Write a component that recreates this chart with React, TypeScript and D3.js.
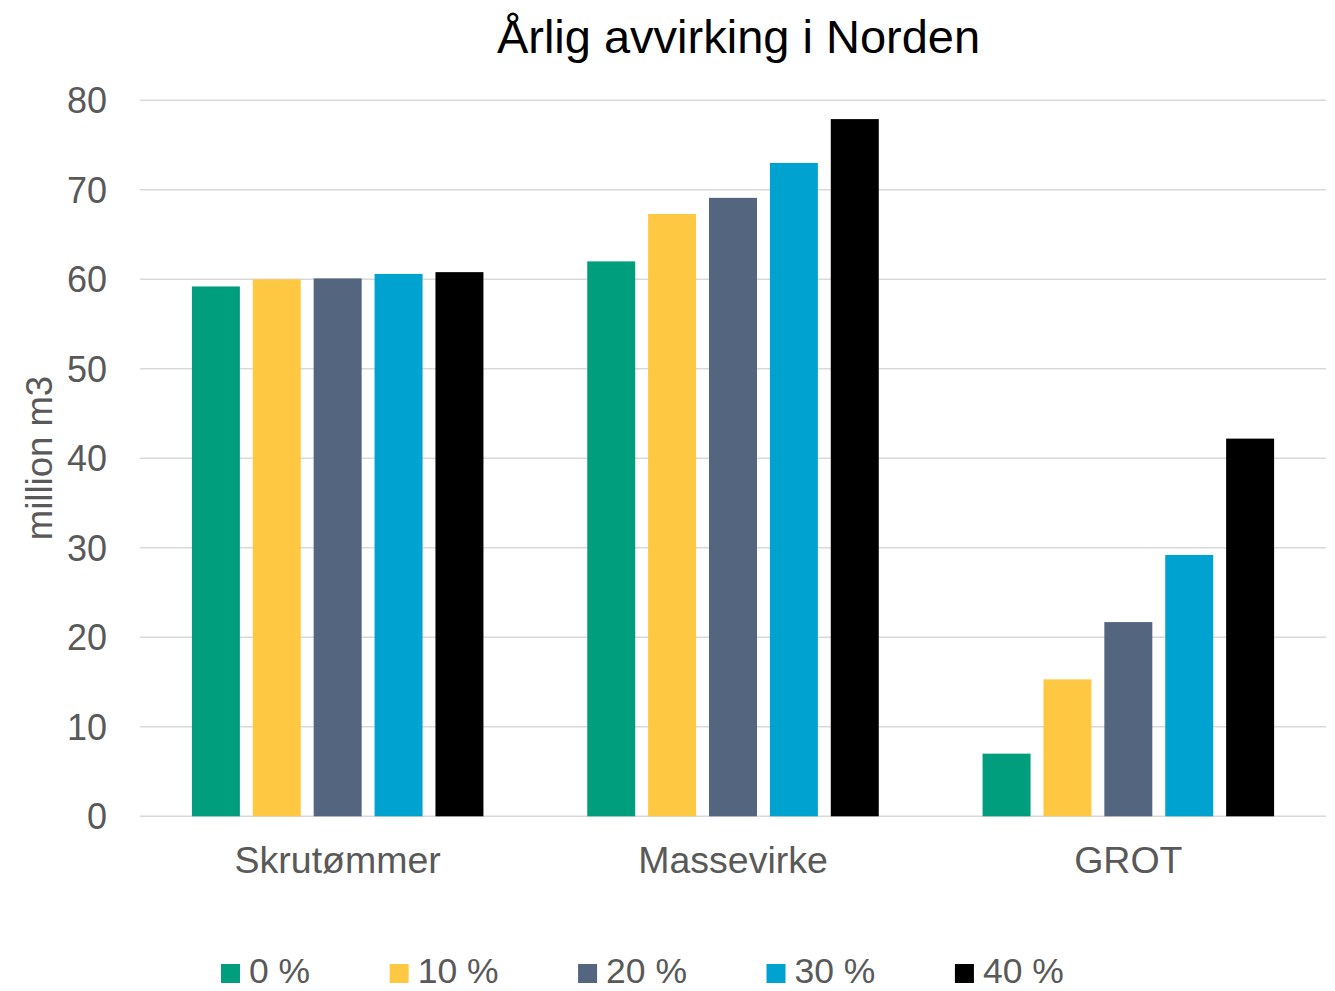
import React from "react";
import * as d3 from "d3";

const categories = ["Skrutømmer", "Massevirke", "GROT"];
const seriesNames = ["0 %", "10 %", "20 %", "30 %", "40 %"];
const values0 = [59.2, 62.0, 7.0];
const values10 = [60.0, 67.3, 15.3];
const values20 = [60.1, 69.1, 21.7];
const values30 = [60.6, 73.0, 29.2];
const values40 = [60.8, 77.9, 42.2];
const yTicks = [0, 10, 20, 30, 40, 50, 60, 70, 80];
const colors = ["#009E7C", "#FFC843", "#54657F", "#00A2CF", "#000000"];

const seriesValues = [values0, values10, values20, values30, values40];

const W = 1335;
const H = 991;
const plot = { left: 140, right: 1326, top: 100.3, bottom: 816.3 };
const FONT = "Liberation Sans, Arial, sans-serif";
const GRAY = "#595959";

function measure(text: string, size: number): number {
  try {
    const c = document.createElement("canvas").getContext("2d");
    if (c) {
      c.font = `${size}px "Liberation Sans", Arial, sans-serif`;
      return c.measureText(text).width;
    }
  } catch (e) {}
  return text.length * size * 0.55;
}

export default function App() {
  const x0 = d3.scaleBand<string>().domain(categories).range([plot.left, plot.right]).paddingInner(0).paddingOuter(0);
  const bw = x0.bandwidth();
  const outer = 51.9;
  const x1 = d3
    .scaleBand<string>()
    .domain(seriesNames)
    .range([outer, bw - outer])
    .paddingInner(0.212)
    .paddingOuter(0);
  const y = d3.scaleLinear().domain([0, 80]).range([plot.bottom, plot.top]);

  const legendFont = 35.5;
  const legendX: number[] = [];
  let cx = 221;
  seriesNames.forEach((s) => {
    legendX.push(cx);
    cx += 28 + measure(s, legendFont) + 79.5;
  });

  return (
    <svg
      width={W}
      height={H}
      style={{ position: "absolute", left: 0, top: 0, background: "#fff" }}
      fontFamily={FONT}
    >
      <rect x={0} y={0} width={W} height={H} fill="#fff" />
      {yTicks.map((t) => (
        <g key={t}>
          <line x1={plot.left} x2={plot.right} y1={y(t)} y2={y(t)} stroke="#D9D9D9" strokeWidth={1.5} />
          <text x={107} y={y(t)} dy="0.36em" textAnchor="end" fontSize={36} fill={GRAY}>
            {t}
          </text>
        </g>
      ))}
      {seriesNames.map((s, si) =>
        categories.map((c, ci) => {
          const v = seriesValues[si][ci];
          const bx = (x0(c) as number) + (x1(s) as number);
          return (
            <rect
              key={s + c}
              x={bx}
              y={y(v)}
              width={x1.bandwidth()}
              height={y(0) - y(v)}
              fill={colors[si]}
            />
          );
        })
      )}
      {categories.map((c) => (
        <text
          key={c}
          x={(x0(c) as number) + bw / 2}
          y={873}
          textAnchor="middle"
          fontSize={37.5}
          fill={GRAY}
        >
          {c}
        </text>
      ))}
      <text
        transform={`translate(52, 458) rotate(-90)`}
        textAnchor="middle"
        fontSize={36.5}
        fill={GRAY}
      >
        million m3
      </text>
      <text x={738.5} y={53} textAnchor="middle" fontSize={47} fill="#000">
        Årlig avvirking i Norden
      </text>
      {seriesNames.map((s, i) => {
        const lx = legendX[i];
        return (
          <g key={s}>
            <rect x={lx} y={964} width={19} height={19} fill={colors[i]} />
            <text x={lx + 28} y={983} fontSize={legendFont} fill={GRAY}>
              {s}
            </text>
          </g>
        );
      })}
    </svg>
  );
}
